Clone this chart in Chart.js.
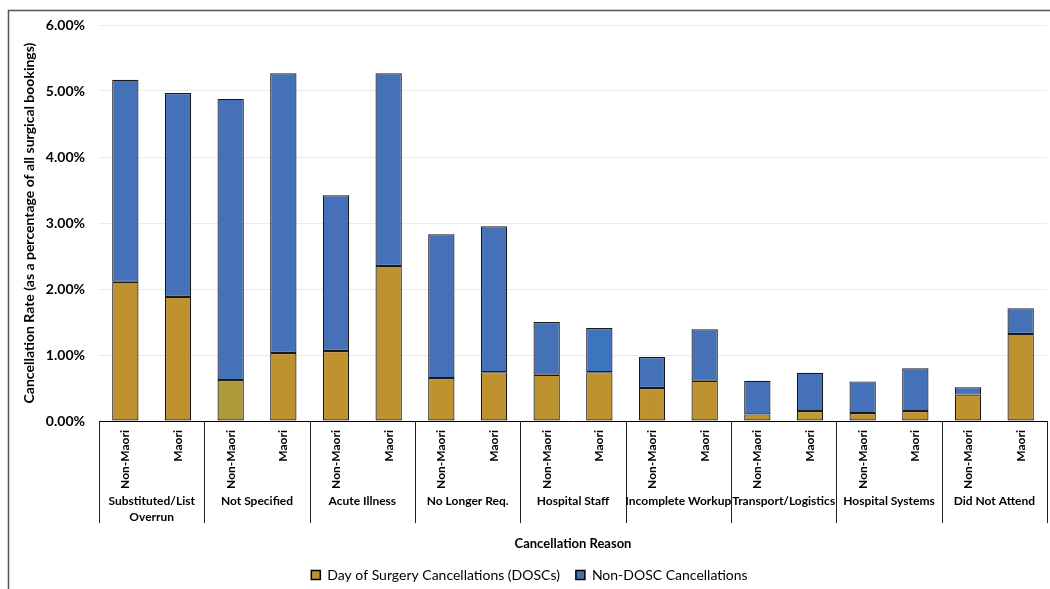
<!DOCTYPE html>
<html>
<head>
<meta charset="utf-8">
<script src="https://cdn.jsdelivr.net/npm/chart.js@4.4.1/dist/chart.umd.min.js"></script>
<style>
  html, body { margin: 0; padding: 0; background: #fff; }
  #wrap { width: 1050px; height: 589px; position: relative; }
</style>
</head>
<body>
<div id="wrap"><canvas id="chart"></canvas></div>
<script>
// Cancellation reason groups and the two ethnicity bars inside each
const groups = [
    ['Substituted/List', 'Overrun'], ['Not Specified'], ['Acute Illness'], ['No Longer Req.'],
    ['Hospital Staff'], ['Incomplete Workup'], ['Transport/Logistics'], ['Hospital Systems'], ['Did Not Attend']
];
const ethnicities = ['Non-Maori', 'Maori'];

// % of all surgical bookings (Non-Maori, Maori per group)
const dosc = [2.11, 1.88, 0.62, 1.03, 1.06, 2.35, 0.65, 0.74, 0.70, 0.74, 0.50, 0.61, 0.10, 0.15, 0.12, 0.15, 0.40, 1.32];
const nonDosc = [3.06, 3.09, 4.26, 4.24, 2.36, 2.92, 2.18, 2.21, 0.80, 0.67, 0.47, 0.78, 0.51, 0.58, 0.48, 0.65, 0.11, 0.39];

const yTicks = [0, 1, 2, 3, 4, 5, 6];

function drawChart() {
    const labels = [];
    groups.forEach(() => ethnicities.forEach(e => labels.push(e)));

    const font = 'Lato, "Open Sans", sans-serif';
    const gold = '#BF9230';
    const blue = '#4571B9';
    const goldColors = dosc.map((v, i) => i === 2 ? '#AE9A36' : (i === 13 ? '#BE9A31' : gold));
    const blueColors = nonDosc.map((v, i) => i === 9 ? '#3C74BD' : blue);

    // group separators, group names and the outer frame
    const groupAxis = {
        id: 'groupAxis',
        afterDraw(chart) {
            const ctx = chart.ctx;
            const xs = chart.scales.x;
            const top = xs.top;
            const bounds = [];
            for (let g = 0; g <= groups.length; g++) {
                if (g === 0) bounds.push(xs.left);
                else if (g === groups.length) bounds.push(xs.right);
                else bounds.push((xs.getPixelForValue(2 * g - 1) + xs.getPixelForValue(2 * g)) / 2);
            }
            ctx.save();
            ctx.strokeStyle = '#222';
            ctx.lineWidth = 1;
            bounds.forEach(b => {
                const x = Math.round(b) + 0.5;
                ctx.beginPath();
                ctx.moveTo(x, top);
                ctx.lineTo(x, top + 102);
                ctx.stroke();
            });
            ctx.fillStyle = '#000';
            ctx.font = 'bold 12px ' + font;
            ctx.textAlign = 'center';
            ctx.textBaseline = 'middle';
            groups.forEach((lines, g) => {
                const cx = (bounds[g] + bounds[g + 1]) / 2;
                lines.forEach((t, k) => ctx.fillText(t, cx, top + 80 + k * 16));
            });
            // chart frame
            ctx.strokeStyle = '#555';
            ctx.lineWidth = 1.5;
            ctx.beginPath();
            ctx.moveTo(8.5, chart.height);
            ctx.lineTo(8.5, 10.5);
            ctx.lineTo(chart.width, 10.5);
            ctx.stroke();
            ctx.restore();
        }
    };

    new Chart(document.getElementById('chart').getContext('2d'), {
        type: 'bar',
        data: {
            labels: labels,
            datasets: [{
                label: 'Day of Surgery Cancellations (DOSCs)',
                data: dosc,
                backgroundColor: goldColors,
                borderColor: '#1a1a1a',
                borderWidth: 1.2,
                borderSkipped: false
            }, {
                label: 'Non-DOSC Cancellations',
                data: nonDosc,
                backgroundColor: blueColors,
                borderColor: '#1a1a1a',
                borderWidth: 1.2,
                borderSkipped: false
            }]
        },
        options: {
            responsive: true,
            maintainAspectRatio: false,
            animation: false,
            datasets: { bar: { categoryPercentage: 1, barPercentage: 0.5 } },
            layout: { padding: { left: 12, top: 25, right: 3, bottom: -3 } },
            plugins: {
                legend: {
                    position: 'bottom',
                    labels: {
                        color: '#000',
                        font: { family: font, size: 14 },
                        boxWidth: 9,
                        boxHeight: 9,
                        padding: 16,
                        generateLabels: chart => chart.data.datasets.map((ds, i) => ({
                            text: ds.label,
                            fillStyle: i === 0 ? gold : blue,
                            strokeStyle: '#000',
                            lineWidth: 1.5,
                            datasetIndex: i,
                            fontColor: '#000'
                        }))
                    }
                },
                tooltip: { enabled: false }
            },
            scales: {
                x: {
                    stacked: true,
                    grid: { display: false, drawTicks: false },
                    border: { display: true, color: '#000', width: 1 },
                    ticks: {
                        color: '#000',
                        font: { family: font, size: 12, weight: 'bold' },
                        minRotation: 90,
                        maxRotation: 90,
                        padding: 9,
                        autoSkip: false
                    },
                    title: {
                        display: true,
                        text: 'Cancellation Reason',
                        color: '#000',
                        font: { family: font, size: 13, weight: 'bold' },
                        padding: { top: 0, bottom: 0 }
                    },
                    afterFit: scale => { scale.height = 131; }
                },
                y: {
                    stacked: true,
                    min: 0,
                    max: 6,
                    afterBuildTicks: scale => { scale.ticks = yTicks.map(v => ({ value: v })); },
                    grid: { color: '#ebebeb', drawTicks: false },
                    border: { display: false },
                    ticks: {
                        color: '#000',
                        padding: 14,
                        font: { family: font, size: 14, weight: 'bold' },
                        callback: v => v.toFixed(2) + '%'
                    },
                    title: {
                        display: true,
                        text: 'Cancellation Rate (as a percentage of all surgical bookings)',
                        color: '#000',
                        font: { family: font, size: 14, weight: 'bold' },
                        padding: { top: 9, bottom: 0 }
                    },
                    afterFit: scale => { scale.width = 87; }
                }
            }
        },
        plugins: [groupAxis]
    });
}

// make sure Lato is ready before Chart.js measures text
document.addEventListener('DOMContentLoaded', () => {
    Promise.all([
        document.fonts.load('bold 13px Lato'),
        document.fonts.load('14px Lato')
    ]).then(drawChart, drawChart);
});
</script>
</body>
</html>
